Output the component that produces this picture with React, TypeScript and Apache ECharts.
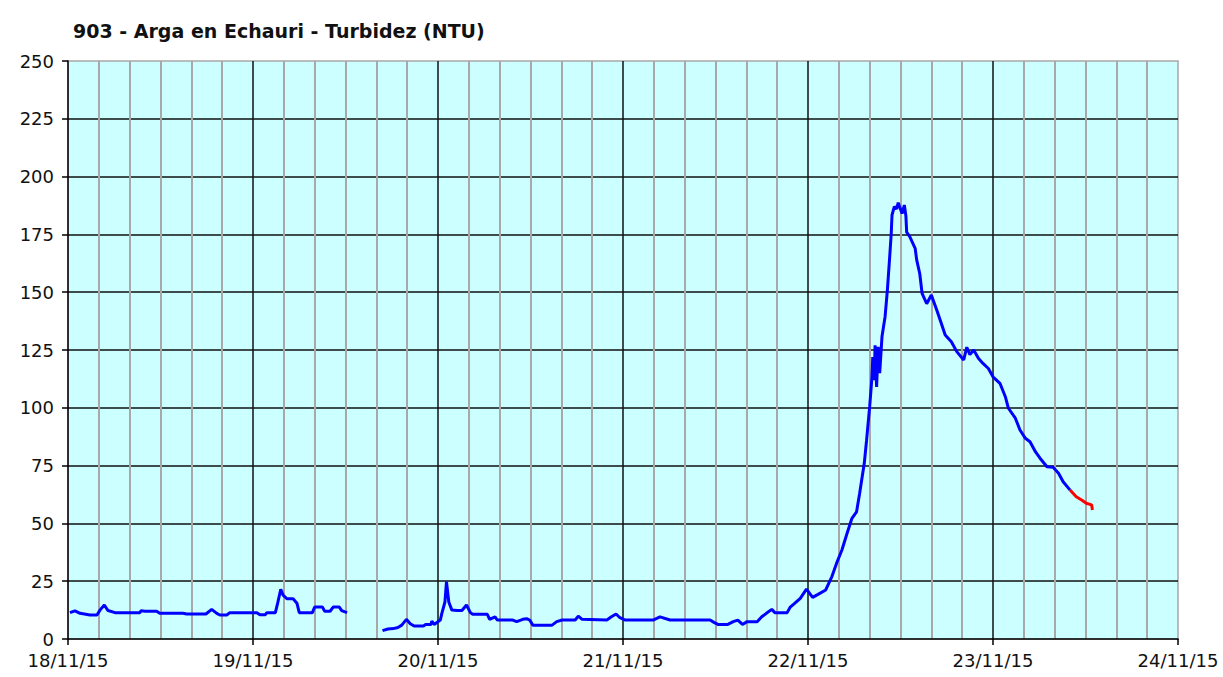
import React, { useEffect, useRef } from "react";
import * as echarts from "echarts";

const titleText = "903 - Arga en Echauri - Turbidez (NTU)";
const dayLabels = ["18/11/15", "19/11/15", "20/11/15", "21/11/15", "22/11/15", "23/11/15", "24/11/15"];

// hours since 18/11/15 00:00
const seg1Hours = [0.26, 0.9, 1.56, 2.85, 3.76, 4.15, 4.71, 5.19, 6.1, 9.34, 9.47, 10.0, 11.5, 11.9, 14.9, 15.4, 17.9, 18.64, 19.3, 19.7, 20.6, 21.0, 24.5, 24.9, 25.6, 25.8, 26.9, 27.2, 27.6, 27.9, 28.4, 29.2, 29.7, 30.0, 31.7, 32.0, 33.0, 33.3, 34.0, 34.4, 35.2, 35.5, 36.2];
const seg1Values = [11.4, 12.2, 11.1, 10.4, 10.4, 12.5, 14.7, 12.3, 11.4, 11.4, 12.2, 12.0, 12.0, 11.1, 11.1, 10.8, 10.8, 12.8, 11.1, 10.4, 10.4, 11.4, 11.4, 10.5, 10.5, 11.4, 11.4, 15.5, 21.5, 19, 17.4, 17.4, 15.5, 11.4, 11.4, 13.8, 13.8, 12.0, 12.0, 13.8, 13.8, 12.3, 11.4];

const seg2Hours = [40.8, 41.5, 42.2, 42.8, 43.3, 43.9, 44.4, 44.9, 46.1, 46.4, 47.1, 47.2, 47.5, 48.3, 48.5, 48.9, 49.1, 49.4, 49.8, 50.5, 51.1, 51.7, 52.2, 52.5, 54.4, 54.7, 55.4, 55.7, 57.7, 58.2, 59.0, 59.5, 59.9, 60.3, 62.8, 63.4, 64.1, 65.8, 66.2, 66.7, 69.9, 70.5, 71.1, 71.6, 72.3, 75.9, 76.8, 78.1, 83.3, 83.8, 84.3, 85.6, 86.3, 86.9, 87.5, 88.1, 89.4, 90.0, 90.6, 91.3, 91.7, 93.3, 93.7, 94.3, 95.0, 95.8, 96.6, 97.3, 98.3, 99.1, 99.7, 100.4, 101.0, 101.7, 102.3, 102.7, 103.3, 103.6, 104.0, 104.3, 104.4, 104.6, 104.7, 104.9, 105.1, 105.3, 105.6, 106.0, 106.3, 106.6, 106.8, 106.9, 107.2, 107.5, 107.7, 108.2, 108.5, 108.7, 108.8, 109.2, 109.9, 110.1, 110.5, 110.8, 111.4, 112.0, 112.7, 113.3, 113.8, 114.6, 115.3, 116.2, 116.6, 117.0, 117.5, 118.1, 118.7, 119.4, 120.0, 120.9, 121.6, 122.0, 122.9, 123.5, 124.2, 124.8, 125.5, 126.1, 127.0, 127.8, 128.5, 129.1, 130.0];
const seg2Values = [3.6, 4.3, 4.5, 5.0, 6, 8.5, 6.6, 5.6, 5.6, 6.3, 6.3, 7.8, 6.3, 8.2, 11.1, 16, 24.8, 16, 12.5, 12.3, 12.3, 14.7, 11.4, 10.7, 10.7, 8.5, 9.6, 8.2, 8.2, 7.5, 8.5, 8.8, 8.2, 6.0, 6.0, 7.5, 8.2, 8.2, 9.9, 8.5, 8.2, 9.6, 10.8, 9.2, 8.2, 8.2, 9.6, 8.2, 8.2, 7.2, 6.3, 6.3, 7.5, 8.2, 6.3, 7.5, 7.5, 9.6, 11.1, 12.8, 11.4, 11.4, 13.8, 15.5, 17.6, 21.6, 18, 19.3, 21.2, 27, 32.7, 38.5, 45, 52.2, 55, 63, 76, 86, 100.5, 113.4, 122, 112, 127, 109, 126.4, 115, 130.8, 139.4, 151, 165.4, 175.5, 183.4, 187, 186, 188.7, 184, 187.7, 183, 176, 174, 169, 164, 158, 149.5, 145, 148.8, 142.3, 136.5, 131.5, 128.6, 124.3, 120.7, 126.2, 123, 125, 121.4, 119.2, 117, 113.4, 110.6, 104.8, 99.8, 95.5, 90.4, 86.8, 85.3, 81, 78.2, 74.5, 74.3, 71.7, 68, 64.4];

const redHours = [130.0, 130.8, 131.5, 132.1, 132.8, 132.9];
const redValues = [64.4, 61.5, 60.1, 58.7, 58, 55.8];

const gapHour = 38;

export default function App() {
  const ref = useRef<HTMLDivElement>(null);

  useEffect(() => {
    if (!ref.current) return;
    const chart = echarts.init(ref.current, null, { renderer: "svg" });

    const blueData: any[] = seg1Hours.map((h, i) => [h, seg1Values[i]]);
    blueData.push([gapHour, "-"]);
    seg2Hours.forEach((h, i) => blueData.push([h, seg2Values[i]]));
    const redData = redHours.map((h, i) => [h, redValues[i]]);

    const labelFont = {
      fontFamily: "DejaVu Sans",
      fontSize: 18,
      color: "#111",
    };

    chart.setOption({
      animation: false,
      backgroundColor: "#fff",
      title: {
        text: titleText,
        left: 68,
        top: 16,
        textStyle: {
          fontFamily: "DejaVu Sans",
          fontWeight: "bold",
          fontSize: 19,
          color: "#111",
        },
      },
      grid: {
        left: 68,
        right: 45,
        top: 61,
        bottom: 38,
        show: true,
        backgroundColor: "#CCFFFF",
        borderColor: "#A8A8A8",
        borderWidth: 1.5,
      },
      xAxis: {
        type: "value",
        min: 0,
        max: 144,
        interval: 24,
        axisLine: { show: true, onZero: false, lineStyle: { color: "#000", width: 1.5 } },
        axisTick: { show: true, length: 6, lineStyle: { color: "#000", width: 1.5 } },
        axisLabel: {
          ...labelFont,
          margin: 12,
          showMaxLabel: true,
          showMinLabel: true,
          formatter: (v: number) => dayLabels[Math.round(v / 24)] ?? "",
        },
        splitLine: { show: true, showMinLine: false, showMaxLine: false, lineStyle: { color: "#111", width: 1.5 } },
        minorTick: { show: false, splitNumber: 6 },
        minorSplitLine: { show: true, lineStyle: { color: "#A8A8A8", width: 2 } },
      },
      yAxis: {
        type: "value",
        min: 0,
        max: 250,
        interval: 25,
        axisLine: { show: true, lineStyle: { color: "#000", width: 1.5 } },
        axisTick: { show: true, length: 6, lineStyle: { color: "#000", width: 1.5 } },
        axisLabel: { ...labelFont, margin: 14 },
        splitLine: { show: true, showMinLine: false, showMaxLine: false, lineStyle: { color: "#111", width: 1.5 } },
      },
      series: [
        {
          type: "line",
          data: blueData,
          showSymbol: false,
          connectNulls: false,
          lineStyle: { color: "#0000FF", width: 3 },
          itemStyle: { color: "#0000FF" },
          z: 3,
        },
        {
          type: "line",
          data: redData,
          showSymbol: false,
          lineStyle: { color: "#FF0000", width: 3 },
          itemStyle: { color: "#FF0000" },
          z: 4,
        },
      ],
    });

    return () => chart.dispose();
  }, []);

  return (
    <div
      ref={ref}
      style={{ position: "absolute", left: 0, top: 0, width: 1223, height: 677 }}
    />
  );
}
